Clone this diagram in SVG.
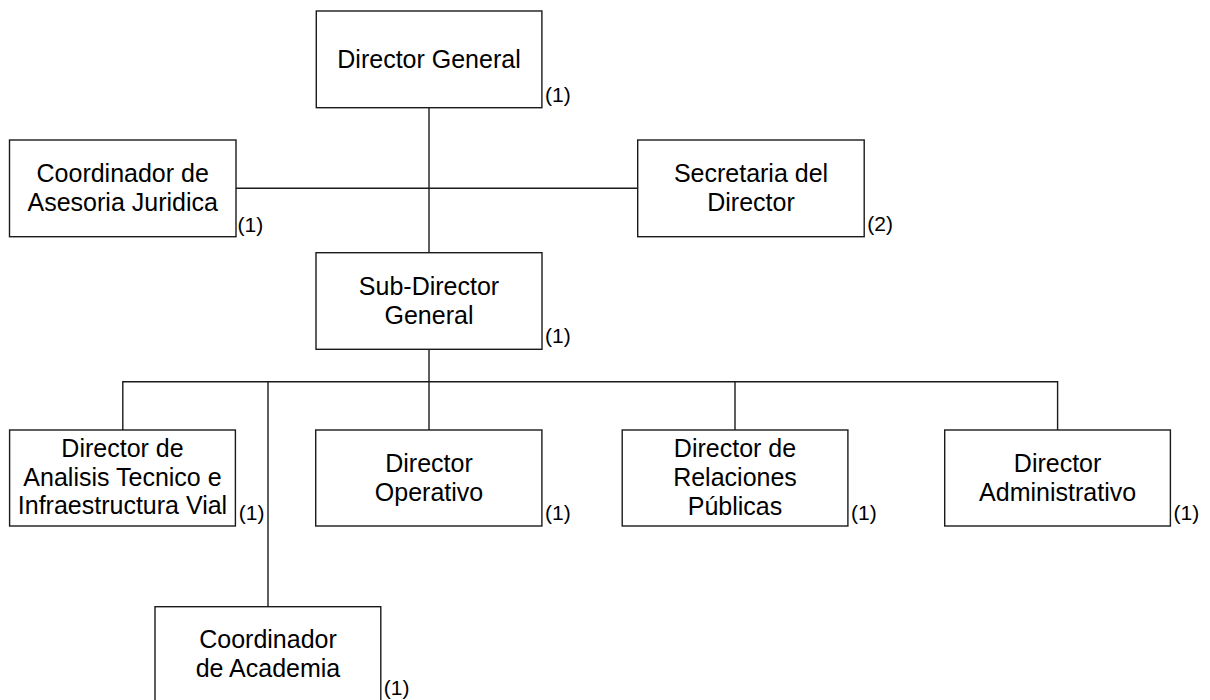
<svg xmlns="http://www.w3.org/2000/svg" width="1210" height="700" viewBox="0 0 1210 700">
<style>
.box{fill:#fff;stroke:#1a1a1a;stroke-width:1.4}
.ln{fill:none;stroke:#1a1a1a;stroke-width:1.4}
.t{font-family:"Liberation Sans",Arial,sans-serif;font-size:25px;fill:#000;text-anchor:middle}
.n{font-family:"Liberation Sans",Arial,sans-serif;font-size:21px;fill:#000}
</style>
<rect width="1210" height="700" fill="#fff"/>
<g id="connectors">
<path class="ln" d="M429,107.7V252.7"/>
<path class="ln" d="M236,188.3H637.7"/>
<path class="ln" d="M429,349.3V381.7"/>
<path class="ln" d="M122.8,430V381.7H1057.6V430"/>
<path class="ln" d="M429,381.7V430"/>
<path class="ln" d="M735,381.7V430"/>
<path class="ln" d="M268,381.7V606.7"/>
</g>
<g id="director-general">
<rect class="box" x="316.3" y="11" width="225.6" height="96.7"/>
<text class="t" x="429" y="68.3">Director General</text>
<text class="n" x="545" y="101.7">(1)</text>
</g>
<g id="coordinador-asesoria">
<rect class="box" x="9.5" y="140" width="226.5" height="96.7"/>
<text class="t"><tspan x="122.7" y="181.7">Coordinador de</tspan><tspan x="122.7" y="210.7">Asesoria Juridica</tspan></text>
<text class="n" x="237.6" y="232.3">(1)</text>
</g>
<g id="secretaria">
<rect class="box" x="637.7" y="140" width="226.5" height="96.7"/>
<text class="t"><tspan x="751" y="181.7">Secretaria del</tspan><tspan x="751" y="211">Director</tspan></text>
<text class="n" x="867.3" y="231">(2)</text>
</g>
<g id="sub-director">
<rect class="box" x="316" y="252.7" width="226" height="96.6"/>
<text class="t"><tspan x="429" y="295">Sub-Director</tspan><tspan x="429" y="323.6">General</tspan></text>
<text class="n" x="545" y="343.3">(1)</text>
</g>
<g id="director-analisis">
<rect class="box" x="9.6" y="430" width="225.8" height="96"/>
<text class="t"><tspan x="122.5" y="456.7">Director de</tspan><tspan x="122.5" y="485.7">Analisis Tecnico e</tspan><tspan x="122.5" y="514.3">Infraestructura Vial</tspan></text>
<text class="n" x="238.8" y="520">(1)</text>
</g>
<g id="director-operativo">
<rect class="box" x="315.7" y="430" width="226.2" height="96"/>
<text class="t"><tspan x="429" y="471.7">Director</tspan><tspan x="429" y="500.7">Operativo</tspan></text>
<text class="n" x="545" y="520">(1)</text>
</g>
<g id="director-relaciones">
<rect class="box" x="622.2" y="430" width="225.7" height="96"/>
<text class="t"><tspan x="735" y="456.7">Director de</tspan><tspan x="735" y="486">Relaciones</tspan><tspan x="735" y="515.3">Públicas</tspan></text>
<text class="n" x="851" y="520">(1)</text>
</g>
<g id="director-administrativo">
<rect class="box" x="944.7" y="430" width="225.7" height="96"/>
<text class="t"><tspan x="1057.6" y="471.7">Director</tspan><tspan x="1057.6" y="501">Administrativo</tspan></text>
<text class="n" x="1173.5" y="520">(1)</text>
</g>
<g id="coordinador-academia">
<rect class="box" x="155" y="606.7" width="225.8" height="96.7"/>
<text class="t"><tspan x="268" y="648.3">Coordinador</tspan><tspan x="268" y="677.3">de Academia</tspan></text>
<text class="n" x="383.8" y="695">(1)</text>
</g>
</svg>
